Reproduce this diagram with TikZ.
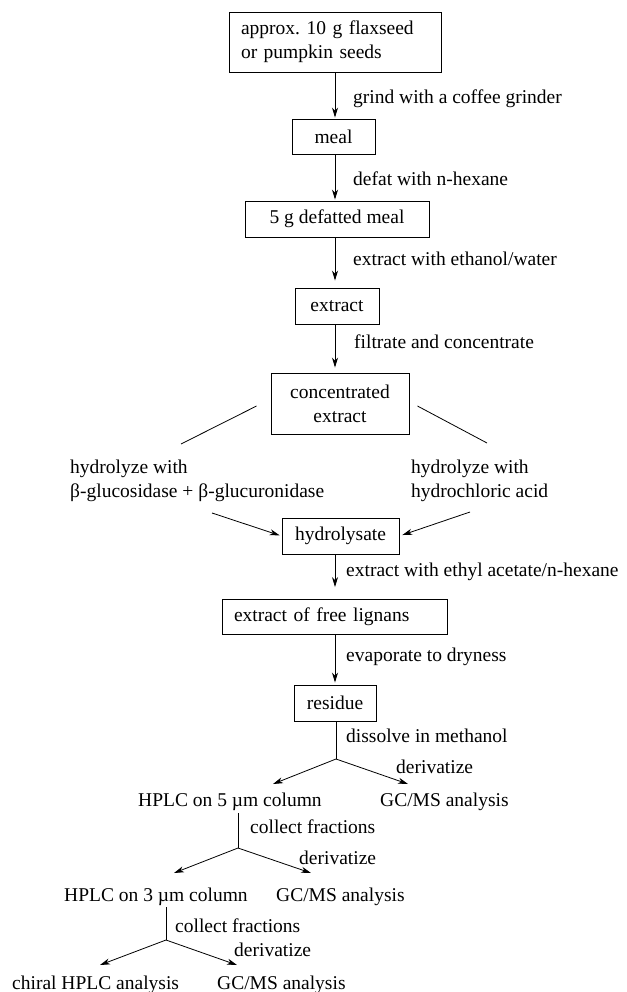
\documentclass[tikz,border=0pt]{standalone}
\usepackage{fontspec}
\setmainfont{Liberation Serif}
\usetikzlibrary{arrows.meta}
\frenchspacing
\begin{document}
\begin{tikzpicture}[x=1pt,y=-1pt,
  every node/.style={font=\fontsize{19.5}{24}\selectfont, inner sep=0pt},
  box/.style={draw, line width=0.9pt, rectangle, align=center},
  lbl/.style={anchor=base west, align=left},
  arr/.style={line width=0.8pt, -{Stealth[length=10pt,width=6pt,inset=3pt]}},
  ln/.style={line width=0.8pt}]
\useasboundingbox (0,0) rectangle (626,992);
\coordinate (ax) at (335,0);
% boxes
\node[box, align=left, text width=188pt, inner xsep=12pt, minimum height=60pt] (b1) at (335,42) {approx. 10 g flaxseed\\or pumpkin seeds};
\node[box, minimum width=83pt, minimum height=35pt] (meal) at (333.5,136.5) {meal};
\node[box, minimum width=184pt, minimum height=36pt] (def) at (337,219) {5 g defatted meal};
\node[box, minimum width=84pt, minimum height=36pt] (ext) at (337,306) {extract};
\node[box, minimum width=138pt, minimum height=61pt] (conc) at (340,403.5) {concentrated\\extract};
\node[box, minimum width=117pt, minimum height=36pt] (hyd) at (340.5,536) {hydrolysate};
\node[box, align=left, text width=201pt, inner xsep=12pt, minimum height=35pt] (lig) at (334.5,617) {extract of free lignans};
\node[box, minimum width=82pt, minimum height=36pt] (res) at (335,703) {residue};
% labels
\node[lbl] (l1) at (353,104) {grind with a coffee grinder};
\node[lbl] (l2) at (353,186) {defat with n-hexane};
\node[lbl] (l3) at (353,265) {extract with ethanol/water};
\node[lbl] (l4) at (354,348) {filtrate and concentrate};
\node[lbl] (hl) at (70,497) {hydrolyze with\\β-glucosidase + β-glucuronidase};
\node[lbl] (hr) at (411,497) {hydrolyze with\\hydrochloric acid};
\node[lbl] (l5) at (346,576) {extract with ethyl acetate/n-hexane};
\node[lbl] (l6) at (346,661) {evaporate to dryness};
\node[lbl] (l7) at (346,742) {dissolve in methanol};
\node[lbl] (d1) at (396,773) {derivatize};
\node[lbl] (h5) at (138,806) {HPLC on 5 µm column};
\node[lbl] (g1) at (380,806) {GC/MS analysis};
\node[lbl] (c1) at (250,833) {collect fractions};
\node[lbl] (d2) at (299,864) {derivatize};
\node[lbl] (h3) at (64,901) {HPLC on 3 µm column};
\node[lbl] (g2) at (276,901) {GC/MS analysis};
\node[lbl] (c2) at (175,932) {collect fractions};
\node[lbl] (d3) at (234,956) {derivatize};
\node[lbl] (ch) at (12,989) {chiral HPLC analysis};
\node[lbl] (g3) at (217,989) {GC/MS analysis};
% main vertical arrows
\draw[arr, shorten >=1pt] (b1.south -| ax) -- (meal.north -| ax);
\draw[arr, shorten >=1pt] (meal.south -| ax) -- (def.north -| ax);
\draw[arr, shorten >=7pt] (def.south -| ax) -- (ext.north -| ax);
\draw[arr, shorten >=5pt] (ext.south -| ax) -- (conc.north -| ax);
% split to hydrolysis routes
\coordinate (lt) at (181,444);
\coordinate (rt) at (487,443);
\draw[ln] ([xshift=-14pt,yshift=-2.5pt]conc.west) -- (lt);
\draw[ln] ([xshift=8pt,yshift=-2.5pt]conc.east) -- (rt);
\coordinate (la) at (212,513);
\coordinate (ra) at (470,512);
\draw[arr, shorten >=2pt] (la) -- (hyd.west);
\draw[arr, shorten >=3pt] (ra) -- (hyd.east);
\draw[arr, shorten >=12pt] (hyd.south -| ax) -- (lig.north -| ax);
\draw[arr, shorten >=2pt] (lig.south -| ax) -- (res.north -| ax);
% branch 1
\coordinate (br1) at (336,759);
\coordinate (t1l) at (273,784);
\coordinate (t1r) at (408,784);
\draw[ln] (res.south -| br1) -- (br1);
\draw[arr] (br1) -- (t1l);
\draw[arr] (br1) -- (t1r);
% branch 2
\coordinate (br2) at (238,848);
\coordinate (t2l) at (174,873);
\coordinate (t2r) at (311,873);
\draw[ln, shorten <=3pt] (h5.south -| br2) -- (br2);
\draw[arr] (br2) -- (t2l);
\draw[arr] (br2) -- (t2r);
% branch 3
\coordinate (br3) at (166,940);
\coordinate (t3l) at (100,965);
\coordinate (t3r) at (237,965);
\draw[ln, shorten <=2pt] (h3.south -| br3) -- (br3);
\draw[arr] (br3) -- (t3l);
\draw[arr] (br3) -- (t3r);
\end{tikzpicture}
\end{document}
